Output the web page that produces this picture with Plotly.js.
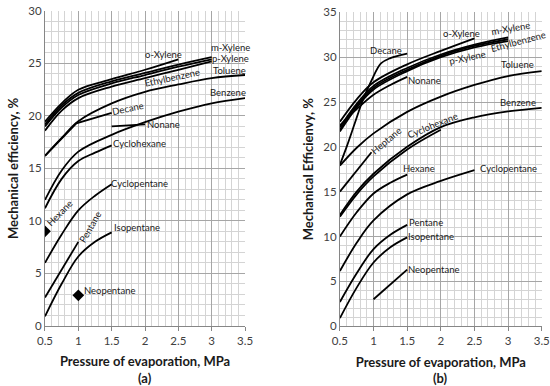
<!DOCTYPE html>
<html><head><meta charset="utf-8">
<script src="https://cdn.plot.ly/plotly-3.0.1.min.js"></script>
<style>html,body{margin:0;padding:0;background:#fff}#chart{width:550px;height:386px}</style>
</head><body><div id="chart"></div>
<script>
// ---------- Panel (a) data ----------
const aP8 = [0.5, 0.75, 1.0, 1.5, 2.0, 2.5, 3.0, 3.5];
const aP7 = [0.5, 0.75, 1.0, 1.5, 2.0, 2.5, 3.0];
const aP6 = [0.5, 0.75, 1.0, 1.5, 2.0, 2.5];
const aP5 = [0.5, 0.75, 1.0, 1.25, 1.5];
const a_oXylene = [19.45, 21.2, 22.5, 23.5, 24.4, 25.4];
const a_mXylene = [19.2, 21.0, 22.2, 23.3, 24.1, 24.9, 25.6];
const a_pXylene = [19.0, 20.8, 22.0, 23.1, 23.9, 24.7, 25.4];
const a_Ethylbenzene = [18.6, 20.5, 21.7, 22.8, 23.6, 24.4, 25.2];
const a_Toluene = [16.2, 17.9, 19.5, 21.2, 22.3, 23.0, 23.6, 23.9];
const a_Benzene = [12.0, 14.8, 16.6, 18.2, 19.4, 20.4, 21.2, 21.7];
const a_DecaneP = [0.5, 0.97, 1.5];
const a_Decane = [16.2, 19.3, 20.3];
const a_NonaneP = [1.5, 2.0];
const a_Nonane = [19.0, 19.2];
const a_Cyclohexane = [11.2, 14.0, 15.7, 16.5, 17.2];
const a_Cyclopentane = [6.0, 8.7, 11.0, 12.4, 13.5];
const a_PentaneP = [0.5, 1.0];
const a_Pentane = [2.7, 8.0];
const a_Isopentane = [0.9, 4.0, 6.6, 8.0, 8.9];
const a_HexaneP = [0.5];
const a_Hexane = [9.0];
const a_NeopentaneP = [1.0];
const a_Neopentane = [2.9];

// ---------- Panel (b) data ----------
const bP8 = [0.5, 0.75, 1.0, 1.5, 2.0, 2.5, 3.0, 3.5];
const bP7 = [0.5, 0.75, 1.0, 1.5, 2.0, 2.5, 3.0];
const bP6 = [0.5, 0.75, 1.0, 1.5, 2.0, 2.5];
const bP5 = [0.5, 0.75, 1.0, 1.5, 2.0];
const bPshort = [0.5, 0.75, 1.0, 1.25, 1.5];
const b_oXylene = [22.8, 25.3, 27.2, 29.2, 30.7, 32.1];
const b_mXylene = [22.2, 24.8, 26.8, 28.8, 30.3, 31.4, 32.2];
const b_Ethylbenzene = [21.9, 24.6, 26.6, 28.6, 30.15, 31.25, 32.0];
const b_pXylene = [21.7, 24.4, 26.4, 28.45, 30.0, 31.1, 31.8];
const b_DecaneP = [0.5, 0.6, 0.72, 0.84, 0.97, 1.11, 1.25, 1.5];
const b_Decane = [18.0, 20.0, 22.6, 25.2, 27.4, 29.3, 29.9, 30.4];
const b_Nonane = [22.4, 24.2, 25.8, 26.9, 27.8];
const b_Toluene = [17.9, 19.9, 21.5, 23.9, 25.6, 26.9, 27.9, 28.45];
const b_Benzene = [12.4, 15.0, 17.0, 20.0, 22.2, 23.3, 23.95, 24.35];
const b_Cyclohexane = [12.2, 14.7, 16.7, 19.7, 21.9];
const b_HeptaneP = [0.5, 0.97];
const b_Heptane = [15.0, 19.4];
const b_Hexane = [10.0, 12.7, 14.8, 16.0, 16.9];
const b_Cyclopentane = [6.15, 9.3, 11.8, 14.7, 16.2, 17.4];
const b_Pentane = [2.7, 5.9, 8.6, 10.2, 11.3];
const b_Isopentane = [0.9, 4.3, 7.1, 8.8, 9.9];
const b_NeopentaneP = [1.0, 1.5];
const b_Neopentane = [3.0, 6.3];

function line(x, y, name, ax, shape) {
  return {x: x, y: y, name: name, type: 'scatter', mode: 'lines',
    xaxis: ax === 2 ? 'x2' : 'x', yaxis: ax === 2 ? 'y2' : 'y',
    line: {color: '#000', width: 1.8, shape: shape || 'spline', smoothing: 1},
    hoverinfo: 'name', showlegend: false};
}
function pts(x, y, name) {
  return {x: x, y: y, name: name, type: 'scatter', mode: 'markers',
    marker: {symbol: 'diamond', color: '#000', size: 9}, showlegend: false};
}

const traces = [
  line(aP6, a_oXylene, 'o-Xylene', 1),
  line(aP7, a_mXylene, 'm-Xylene', 1),
  line(aP7, a_pXylene, 'p-Xylene', 1),
  line(aP7, a_Ethylbenzene, 'Ethylbenzene', 1),
  line(aP8, a_Toluene, 'Toluene', 1),
  line(aP8, a_Benzene, 'Benzene', 1),
  line(a_DecaneP, a_Decane, 'Decane', 1, 'linear'),
  line(a_NonaneP, a_Nonane, 'Nonane', 1, 'linear'),
  line(aP5, a_Cyclohexane, 'Cyclohexane', 1),
  line(aP5, a_Cyclopentane, 'Cyclopentane', 1),
  line(a_PentaneP, a_Pentane, 'Pentane', 1, 'linear'),
  line(aP5, a_Isopentane, 'Isopentane', 1),
  pts(a_HexaneP, a_Hexane, 'Hexane'),
  pts(a_NeopentaneP, a_Neopentane, 'Neopentane'),

  line(bP6, b_oXylene, 'o-Xylene', 2),
  line(bP7, b_mXylene, 'm-Xylene', 2),
  line(bP7, b_Ethylbenzene, 'Ethylbenzene', 2),
  line(bP7, b_pXylene, 'p-Xylene', 2),
  line(b_DecaneP, b_Decane, 'Decane', 2),
  line(bPshort, b_Nonane, 'Nonane', 2),
  line(bP8, b_Toluene, 'Toluene', 2),
  line(bP8, b_Benzene, 'Benzene', 2),
  line(bP5, b_Cyclohexane, 'Cyclohexane', 2),
  line(b_HeptaneP, b_Heptane, 'Heptane', 2, 'linear'),
  line(bPshort, b_Hexane, 'Hexane', 2),
  line(bP6, b_Cyclopentane, 'Cyclopentane', 2),
  line(bPshort, b_Pentane, 'Pentane', 2),
  line(bPshort, b_Isopentane, 'Isopentane', 2),
  line(b_NeopentaneP, b_Neopentane, 'Neopentane', 2, 'linear')
];

const FONT = 'Lato, "Open Sans", "Liberation Sans", sans-serif';
function lab(ax, x, y, text, angle) {
  return {xref: ax === 2 ? 'x2' : 'x', yref: ax === 2 ? 'y2' : 'y', x: x, y: y,
    text: text, showarrow: false, textangle: angle || 0,
    font: {family: FONT, size: 9.5, color: '#1a1a1a'}};
}
function caption(x, text) {
  return {xref: 'paper', yref: 'paper', x: x, y: 0.02, yanchor: 'middle', xanchor: 'center',
    text: '<b>' + text + '</b>', showarrow: false,
    font: {family: FONT, size: 13, color: '#1a1a1a'}};
}
const annotations = [
  lab(1, 2.27, 25.9, 'o-Xylene'),
  lab(1, 3.28, 26.5, 'm-Xylene'),
  lab(1, 3.28, 25.5, 'p-Xylene'),
  lab(1, 2.41, 23.7, 'Ethylbenzene', -12),
  lab(1, 3.27, 24.3, 'Toluene'),
  lab(1, 3.25, 22.2, 'Benzene'),
  lab(1, 1.74, 20.7, 'Decane', -12),
  lab(1, 2.27, 19.2, 'Nonane'),
  lab(1, 1.91, 17.4, 'Cyclohexane'),
  lab(1, 1.91, 13.6, 'Cyclopentane'),
  lab(1, 0.73, 10.75, 'Hexane', -45),
  lab(1, 1.17, 9.4, 'Pentane', -60),
  lab(1, 1.88, 9.35, 'Isopentane'),
  lab(1, 1.48, 3.4, 'Neopentane'),

  lab(2, 2.3, 32.65, 'o-Xylene'),
  lab(2, 3.03, 33.2, 'm-Xylene', -10),
  lab(2, 3.15, 31.8, 'Ethylbenzene', -15),
  lab(2, 2.4, 29.95, 'p-Xylene', -12),
  lab(2, 1.19, 30.7, 'Decane'),
  lab(2, 3.14, 29.2, 'Toluene'),
  lab(2, 1.76, 27.45, 'Nonane'),
  lab(2, 3.15, 25.0, 'Benzene'),
  lab(2, 1.19, 20.75, 'Heptane', -40),
  lab(2, 1.87, 22.4, 'Cyclohexane', -22),
  lab(2, 1.68, 17.6, 'Hexane'),
  lab(2, 3.01, 17.6, 'Cyclopentane'),
  lab(2, 1.78, 11.57, 'Pentane'),
  lab(2, 1.86, 9.97, 'Isopentane'),
  lab(2, 1.9, 6.3, 'Neopentane'),

  caption(0.2636, '(a)'),
  caption(0.8015, '(b)')
];

function xax(domain, anchor) {
  return {domain: domain, anchor: anchor, range: [0.5, 3.5], dtick: 0.5, tick0: 0.5,
    showgrid: true, gridcolor: '#a6a6a6', gridwidth: 1,
    minor: {dtick: 0.1, showgrid: true, gridcolor: '#d4d4d4', gridwidth: 1, ticks: ''},
    zeroline: false, showline: true, linecolor: '#868686', linewidth: 1,
    ticks: 'outside', ticklen: 4, tickcolor: '#868686',
    tickfont: {family: FONT, size: 11.5, color: '#404040'},
    title: {text: '<b>Pressure of evaporation, MPa</b>',
      font: {family: FONT, size: 13, color: '#1a1a1a'}, standoff: 11},
    fixedrange: true};
}
function yax(domain, anchor, range, title) {
  return {domain: domain, anchor: anchor, range: range, dtick: 5, tick0: 0,
    showgrid: true, gridcolor: '#a6a6a6', gridwidth: 1,
    minor: {dtick: 1, showgrid: true, gridcolor: '#d4d4d4', gridwidth: 1, ticks: ''},
    zeroline: false, showline: true, linecolor: '#868686', linewidth: 1,
    ticks: '', tickfont: {family: FONT, size: 11.5, color: '#404040'},
    title: {text: '<b>' + title + '</b>', font: {family: FONT, size: 13, color: '#1a1a1a'}, standoff: 6},
    fixedrange: true};
}

const layout = {
  width: 550, height: 386,
  margin: {l: 0, r: 0, t: 0, b: 0},
  paper_bgcolor: '#fff', plot_bgcolor: '#fff',
  showlegend: false,
  xaxis: xax([0.0818, 0.4455], 'y'),
  yaxis: yax([0.156, 0.9715], 'x', [0, 30], 'Mechanical efficiency, %'),
  xaxis2: xax([0.618, 0.985], 'y2'),
  yaxis2: yax([0.155, 0.968], 'x2', [0, 35], 'Mechanical Efficienvy, %'),
  annotations: annotations
};

Plotly.newPlot('chart', traces, layout, {displayModeBar: false, staticPlot: true});
</script>
</body></html>
